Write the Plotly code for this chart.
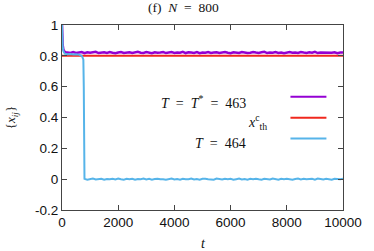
import plotly.graph_objects as go

# ---- data ----
t_head_purple = [0, 10, 25, 50, 100, 150]
x_head_purple = [1.0, 0.93, 0.87, 0.84, 0.826, 0.821]
t_tail_purple = list(range(200, 10001, 100))
x_tail_purple = [
    0.822, 0.818, 0.824, 0.819, 0.821, 0.825, 0.817, 0.823, 0.820, 0.822,
    0.826, 0.818, 0.821, 0.823, 0.819, 0.824, 0.820, 0.817, 0.822, 0.825,
    0.819, 0.821, 0.823, 0.818, 0.822, 0.826, 0.820, 0.819, 0.824, 0.821,
    0.817, 0.823, 0.820, 0.822, 0.825, 0.818, 0.821, 0.824, 0.819, 0.822,
    0.820, 0.826, 0.818, 0.823, 0.821, 0.819, 0.824, 0.817, 0.822, 0.820,
    0.825, 0.819, 0.821, 0.823, 0.818, 0.822, 0.824, 0.820, 0.817, 0.823,
    0.821, 0.819, 0.825, 0.822, 0.818, 0.820, 0.824, 0.821, 0.819, 0.823,
    0.826, 0.818, 0.822, 0.820, 0.824, 0.819, 0.821, 0.817, 0.823, 0.825,
    0.820, 0.822, 0.818, 0.824, 0.821, 0.819, 0.823, 0.820, 0.826, 0.818,
    0.822, 0.821, 0.824, 0.819, 0.820, 0.823, 0.817, 0.822, 0.821]

t_head_blue = [0, 10, 25, 50, 100, 200, 300, 400, 500, 600, 650, 700, 730, 760, 775, 785, 795]
x_head_blue = [1.0, 0.92, 0.86, 0.83, 0.814, 0.81, 0.812, 0.809, 0.811, 0.808,
               0.806, 0.80, 0.79, 0.775, 0.6, 0.2, 0.01]
t_tail_blue = list(range(800, 10001, 100))
x_tail_blue = [
    0.002, -0.003, 0.001, 0.004, -0.002, 0.000, 0.003, -0.004, 0.001, -0.001,
    0.003, -0.002, 0.004, 0.000, -0.003, 0.002, -0.001, 0.003, -0.004, 0.001,
    0.000, 0.004, -0.002, 0.002, -0.003, 0.001, 0.003, -0.001, 0.000, -0.004,
    0.002, 0.004, -0.002, 0.001, -0.003, 0.003, 0.000, -0.001, 0.004, -0.002,
    0.001, -0.004, 0.002, 0.003, -0.001, 0.000, -0.003, 0.004, 0.001, -0.002,
    0.003, -0.001, 0.002, -0.004, 0.000, 0.004, -0.002, 0.001, -0.003, 0.002,
    0.000, 0.003, -0.001, -0.004, 0.002, 0.001, -0.002, 0.004, 0.000, -0.003,
    0.003, -0.001, 0.002, 0.000, -0.004, 0.001, 0.004, -0.002, 0.003, -0.001,
    0.000, 0.002, -0.003, 0.004, 0.001, -0.002, 0.003, 0.000, -0.004, 0.002,
    0.001, -0.001, 0.003]

t_threshold = [0, 10000]
x_threshold = [0.80, 0.80]

x_tickvals = [0, 2000, 4000, 6000, 8000, 10000]
x_ticktext = ["0", "2000", "4000", "6000", "8000", "10000"]
y_tickvals = [-0.2, 0, 0.2, 0.4, 0.6, 0.8, 1.0]
y_ticktext = ["-0.2", "0", "0.2", "0.4", "0.6", "0.8", "1"]

PURPLE = "#9400d3"
RED = "#f0281e"
BLUE = "#56b4e9"
SERIF = "Liberation Serif, DejaVu Serif, serif"
SANS = "Liberation Sans, Arial, sans-serif"
EQ = "&nbsp;&nbsp;=&nbsp;&nbsp;"

fig = go.Figure()
fig.add_trace(go.Scatter(x=t_threshold, y=x_threshold, mode="lines",
                         line=dict(color=RED, width=2), showlegend=False))
fig.add_trace(go.Scatter(x=t_head_purple + t_tail_purple, y=x_head_purple + x_tail_purple,
                         mode="lines", line=dict(color=PURPLE, width=2.5), showlegend=False))
fig.add_trace(go.Scatter(x=t_head_blue + t_tail_blue, y=x_head_blue + x_tail_blue,
                         mode="lines", line=dict(color=BLUE, width=2), showlegend=False))

axis_common = dict(showgrid=False, zeroline=False, showline=True, linecolor="#444",
                   linewidth=1, mirror="allticks", ticks="inside", ticklen=5,
                   tickcolor="#444", tickfont=dict(family=SANS, size=13.5, color="#111"))

fig.update_xaxes(range=[0, 10000], tickvals=x_tickvals, ticktext=x_ticktext, **axis_common)
fig.update_yaxes(range=[-0.2, 1.0], tickvals=y_tickvals, ticktext=y_ticktext, **axis_common)

# key lines (paper coords)
for y, c in [(0.612, PURPLE), (0.499, RED), (0.387, BLUE)]:
    fig.add_shape(type="line", xref="paper", yref="paper", x0=0.813, x1=0.941, y0=y, y1=y,
                  line=dict(color=c, width=2))

ann = [
    ("<i>T</i>" + EQ + "<i>T</i><sup>*</sup>" + EQ + "463", 0.662, 0.586),
    ("<i>x</i><sup>c</sup><sub>th</sub>", 0.735, 0.475),
    ("<i>T</i>" + EQ + "464", 0.662, 0.357),
]
for txt, x, y in ann:
    fig.add_annotation(text=txt, xref="paper", yref="paper", x=x, y=y, xanchor="right",
                       yanchor="middle", showarrow=False,
                       font=dict(family=SERIF, size=14, color="#111"))

fig.add_annotation(text="(f)&nbsp;&nbsp;<i>N</i>" + EQ + "800", xref="paper", yref="paper",
                   x=0.434, y=1.0, yshift=18, xanchor="center", yanchor="middle",
                   showarrow=False, font=dict(family=SERIF, size=13.5, color="#111"))
fig.add_annotation(text="{<i>x<sub>ij</sub></i>}", xref="paper", yref="paper", x=-0.179, y=0.5,
                   textangle=-90, xanchor="center", yanchor="middle", showarrow=False,
                   font=dict(family=SERIF, size=13, color="#111"))
fig.add_annotation(text="<i>t</i>", xref="paper", yref="paper", x=0.503, y=0, yshift=-33,
                   xanchor="center", yanchor="middle", showarrow=False,
                   font=dict(family=SERIF, size=14, color="#111"))

fig.update_layout(width=374, height=251, margin=dict(l=62, r=22, t=25, b=41),
                  paper_bgcolor="white", plot_bgcolor="white", showlegend=False)

fig.write_html("out.html", config={"displayModeBar": False},
               post_script="document.body.style.margin='0';document.body.style.overflow='hidden';")
